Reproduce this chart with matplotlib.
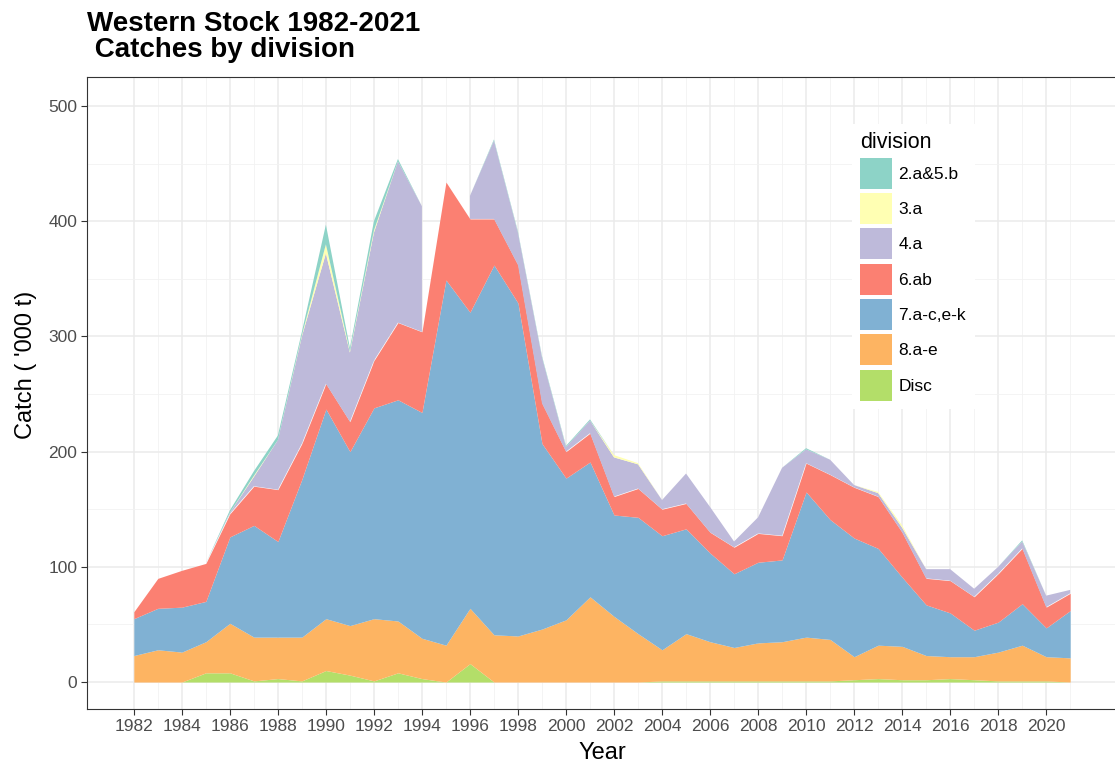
import numpy as np
import matplotlib
matplotlib.use("Agg")
from matplotlib import pyplot as plt
from matplotlib.patches import Patch

plt.rcParams["font.family"] = ["Liberation Sans", "DejaVu Sans"]

# Data ('000 t)
nan = np.nan
years = list(range(1982, 2022))
disc = [0, 0, 0, 8, 8, 1, 3, 1, 10, 6, 1, 8, 3, 0, 16, 0, 0, 0, 0, 0,
        0, 0, 1, 1, 1, 1, 1, 1, 1, 1, 2, 3, 2, 2, 3, 2, 1, 1, 1, 0]
div_8ae = [23, 28, 26, 27, 43, 38, 36, 38, 45, 43, 54, 45, 35, 32, 48, 41, 40, 46, 54, 74,
           57, 42, 27, 41, 34, 29, 33, 34, 38, 36, 20, 29, 29, 21, 19, 20, 25, 31, 21, 21]
div_7 = [32, 36, 39, 35, 75, 97, 83, 137, 182, 151, 183, 192, 196, 317, 257, 321, 289, 161, 123, 117,
         88, 101, 99, 91, 77, 64, 70, 71, 126, 104, 103, 84, 60, 44, 38, 23, 26, 36, 25, 41]
div_6ab = [6, 26, 32, 33, 20, 34, 45, 31, 22, 26, 41, 67, 70, 85, 81, 40, 33, 35, 23, 25,
           16, 25, 23, 22, 18, 23, 25, 21, 25, 39, 44, 45, 39, 23, 28, 29, 42, 48, 18, 15]
div_4a = [0, 0, 0, 0, 1, 8, 43, 93, 113, 60, 111, 140, 109, nan, 20, 68, 28, 40, 4, 11,
          34, 21, 8, 26, 22, 5, 14, 59, 12, 13, 2, 3, 4, 8, 10, 7, 6, 6, 10, 3]
div_3a = [0, 0, 0, 0, 0, 1, 0, 1, 8, 1, 2, 0, 0, nan, 0, 0, 0, 0, 0, 0,
          2, 1, 0, 0, 0, 0, 0, 0, 0, 0, 0, 1, 2, 0, 0, 0, 0, 0, 0, 0]
div_2a5b = [0, 0, 0, 0, 2, 4, 4, 3, 17, 3, 8, 2, 0, nan, 0, 1, 1, 1, 1, 1,
            0, 0, 0, 0, 0, 0, 0, 0, 1, 0, 0, 0, 0, 0, 0, 0, 0, 1, 0, 0]

# stacking order, bottom to top
series = [disc, div_8ae, div_7, div_6ab, div_4a, div_3a, div_2a5b]
names = ["Disc", "8.a-e", "7.a-c,e-k", "6.ab", "4.a", "3.a", "2.a&5.b"]
colors = ["#B3DE69", "#FDB462", "#80B1D3", "#FB8072", "#BEBADA", "#FFFFB3", "#8DD3C7"]

fig = plt.figure(figsize=(11.15, 7.69), dpi=100)
ax = fig.add_axes([87 / 1115, 60 / 769, 1030 / 1115, 632 / 769])

base = np.zeros(len(years))
for vals, col in zip(series, colors):
    top = base + np.array(vals, dtype=float)
    ax.fill_between(years, base, top, color=col, linewidth=0, zorder=2)
    base = top

ax.set_xlim(1980.05, 2022.95)
ax.set_ylim(-23.4, 525.2)
ax.set_xticks(range(1982, 2021, 2))
ax.set_xticks(range(1983, 2022, 2), minor=True)
ax.set_yticks(range(0, 501, 100))
ax.set_yticks(range(50, 501, 100), minor=True)

ax.grid(which="major", color="#EBEBEB", linewidth=1.1, zorder=0)
ax.grid(which="minor", color="#F2F2F2", linewidth=0.6, zorder=0)
ax.set_axisbelow(True)

ax.tick_params(which="major", labelsize=12.5, labelcolor="#4D4D4D", color="#333333",
               length=4, width=0.8, pad=3)
ax.tick_params(which="minor", length=0)
for s in ax.spines.values():
    s.set_color("#333333")
    s.set_linewidth(0.8)

ax.set_xlabel("Year", fontsize=17, labelpad=6)
ax.set_ylabel("Catch ( '000 t)", fontsize=17)
ax.yaxis.set_label_coords(-0.049, 0.545)

# legend, top entry first like ggplot
handles = [Patch(facecolor=c, edgecolor="none") for c in colors[::-1]]
ax.legend(handles, names[::-1], title="division", loc="upper left",
          bbox_to_anchor=(843 / 1115, 1 - 115 / 769), bbox_transform=fig.transFigure,
          fontsize=12.5, title_fontsize=15.5, alignment="left",
          handlelength=1.84, handleheight=2.37, labelspacing=0.25, handletextpad=0.35,
          borderpad=0.5, frameon=True, fancybox=False, framealpha=1,
          facecolor="white", edgecolor="none")

fig.text(87 / 1115, 1 - 11 / 769, "Western Stock 1982-2021\n Catches by division",
         fontsize=20, fontweight="bold", va="top", ha="left", linespacing=1.0)

fig.savefig("out.png", dpi=100)
